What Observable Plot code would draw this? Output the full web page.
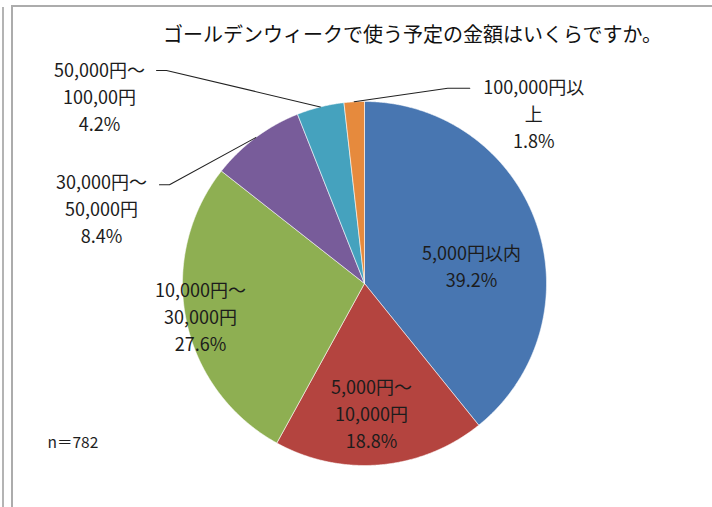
<!DOCTYPE html>
<html><head><meta charset="utf-8">
<script src="https://cdn.jsdelivr.net/npm/d3@7"></script>
<script src="https://cdn.jsdelivr.net/npm/@observablehq/plot@0.6"></script>
<style>
body{margin:0;background:#fff;}
#wrap{position:relative;width:712px;height:507px;overflow:hidden;font-family:"Noto Sans CJK JP",sans-serif;background:#fff;}
.l1{position:absolute;left:2px;top:7px;width:2px;height:520px;background:#b4b4b4;}
.l2{position:absolute;left:11px;top:5px;width:800px;height:600px;border-left:2px solid #acacac;border-top:2px solid #acacac;}
#chart{position:absolute;left:0;top:0;}
</style></head><body>
<div id="wrap"><div class="l1"></div><div class="l2"></div><div id="chart"></div></div>
<script>
// ---- data ----
const categories = ["5,000円以内","5,000円～10,000円","10,000円～30,000円","30,000円～50,000円","50,000円～100,00円","100,000円以上"];
const labelLines = [["5,000円以内"],["5,000円～","10,000円"],["10,000円～","30,000円"],["30,000円～","50,000円"],["50,000円～","100,00円"],["100,000円以","上"]];
const percents = [39.2, 18.8, 27.6, 8.4, 4.2, 1.8];
const colors = ["#4876B1","#B4443F","#8EAF52","#785C9A","#45A2BE","#E68A3D"];
const title = "ゴールデンウィークで使う予定の金額はいくらですか。";
const note = "n＝782";

// ---- layout ----
const W = 712, H = 507, CX = 364, CY = 283, R = 182;
// label placement relative to slice mid-angle: radius (in pie radii), angle nudge (deg)
const labelRadius = [0.597, 0.71, 0.918, 1.504, 1.785, 1.323];
const labelNudge  = [9.4, 1.9, 0.4, -37.2, -40.6, 47.9];
// leader lines for outside labels: end point offset from label centre (px), elbow length (px)
const leader = {3:[58,-23,10], 4:[57,-25,10], 5:[-64,-24,-22]};
const FS = 18, LH = 27;

const arcs = d3.pie().sort(null).value(d => d)(percents);
const slicePts = [];
arcs.forEach((a, i) => {
  const n = Math.max(2, Math.ceil((a.endAngle - a.startAngle) / 0.005));
  slicePts.push({cat: categories[i], u: 0, v: 0});
  for (let k = 0; k <= n; k++) {
    const t = a.startAngle + (a.endAngle - a.startAngle) * k / n;
    slicePts.push({cat: categories[i], u: Math.sin(t), v: Math.cos(t)});
  }
  slicePts.push({cat: categories[i], u: 0, v: 0});
});

const labels = arcs.map((a, i) => {
  const mid = (a.startAngle + a.endAngle) / 2 + labelNudge[i] * Math.PI / 180;
  return {
    cat: categories[i],
    text: [...labelLines[i], percents[i].toFixed(1) + "%"].join("\n"),
    u: labelRadius[i] * Math.sin(mid),
    v: labelRadius[i] * Math.cos(mid),
    midA: (a.startAngle + a.endAngle) / 2
  };
});

const leaderPts = [];
labels.forEach((l, i) => {
  if (!leader[i]) return;
  const [dx, dy, el] = leader[i];
  const eu = l.u + dx / R, ev = l.v - dy / R;
  leaderPts.push({cat: l.cat, u: Math.sin(l.midA), v: Math.cos(l.midA)});
  leaderPts.push({cat: l.cat, u: eu + el / R, v: ev});
  leaderPts.push({cat: l.cat, u: eu, v: ev});
});

const chart = Plot.plot({
  width: W, height: H,
  margin: 0,
  style: {background: "transparent", fontFamily: '"Noto Sans CJK JP", sans-serif'},
  x: {domain: [-CX / R, (W - CX) / R], range: [0, W], axis: null},
  y: {domain: [(CY - H) / R, CY / R], range: [H, 0], axis: null},
  color: {domain: categories, range: colors},
  marks: [
    Plot.line(slicePts, {x: "u", y: "v", z: "cat", fill: "cat", stroke: "#ffffff", strokeWidth: 0.8, strokeOpacity: 0.7, strokeLinejoin: "round"}),
    Plot.line(leaderPts, {x: "u", y: "v", z: "cat", stroke: "#222", strokeWidth: 1.1}),
    Plot.text(labels, {x: "u", y: "v", text: "text", fontSize: FS, lineHeight: LH / FS, textAnchor: "middle", lineAnchor: "middle", fill: "#1c1c1c"}),
    Plot.text([title], {frameAnchor: "top-left", dx: 412, dy: 35, text: d => d, fontSize: 20, textAnchor: "middle", lineAnchor: "middle", fill: "#111"}),
    Plot.text([note], {frameAnchor: "top-left", dx: 47, dy: 443, text: d => d, fontSize: 15.5, textAnchor: "start", lineAnchor: "middle", fill: "#1e1e1e"})
  ]
});
document.getElementById("chart").appendChild(chart);
</script>
</body></html>
